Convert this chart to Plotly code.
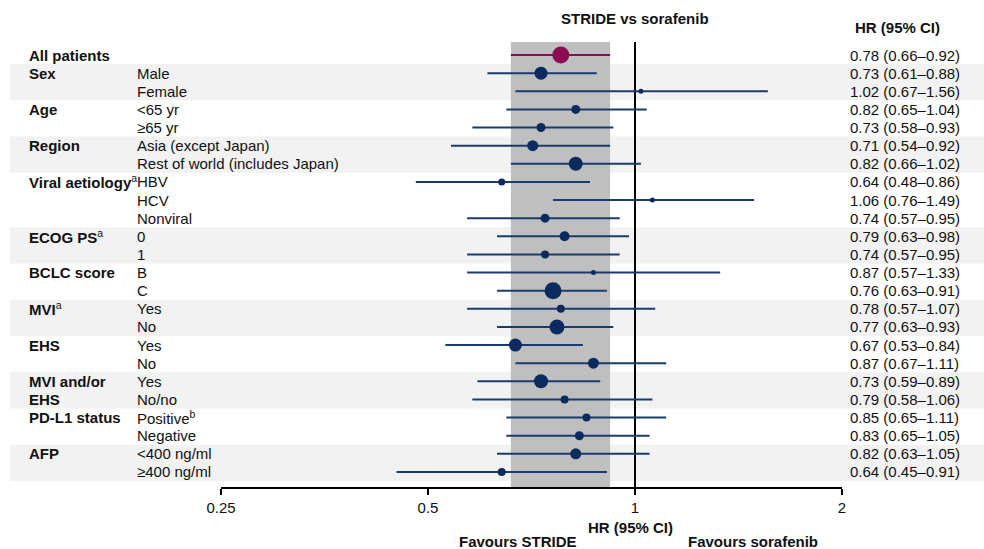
import plotly.graph_objects as go

# Subgroup forest plot: STRIDE vs sorafenib, hazard ratios with 95% CI
group_labels = ["<b>All patients</b>", "<b>Sex</b>", "", "<b>Age</b>", "",
                "<b>Region</b>", "", "<b>Viral aetiology</b><sup>a</sup>", "", "",
                "<b>ECOG PS</b><sup>a</sup>", "", "<b>BCLC score</b>", "",
                "<b>MVI</b><sup>a</sup>", "", "<b>EHS</b>", "",
                "<b>MVI and/or</b>", "<b>EHS</b>", "<b>PD-L1 status</b>", "",
                "<b>AFP</b>", ""]
subgroups = ["", "Male", "Female", "<65 yr", "≥65 yr",
             "Asia (except Japan)", "Rest of world (includes Japan)",
             "HBV", "HCV", "Nonviral", "0", "1", "B", "C", "Yes", "No",
             "Yes", "No", "Yes", "No/no", "Positive<sup>b</sup>", "Negative",
             "<400 ng/ml", "≥400 ng/ml"]
hr = [0.78, 0.73, 1.02, 0.82, 0.73, 0.71, 0.82, 0.64, 1.06, 0.74, 0.79, 0.74,
      0.87, 0.76, 0.78, 0.77, 0.67, 0.87, 0.73, 0.79, 0.85, 0.83, 0.82, 0.64]
ci_lo = [0.66, 0.61, 0.67, 0.65, 0.58, 0.54, 0.66, 0.48, 0.76, 0.57, 0.63, 0.57,
         0.57, 0.63, 0.57, 0.63, 0.53, 0.67, 0.59, 0.58, 0.65, 0.65, 0.63, 0.45]
ci_hi = [0.92, 0.88, 1.56, 1.04, 0.93, 0.92, 1.02, 0.86, 1.49, 0.95, 0.98, 0.95,
         1.33, 0.91, 1.07, 0.93, 0.84, 1.11, 0.89, 1.06, 1.11, 1.05, 1.05, 0.91]
# marker diameters scale with subgroup size
dot_size = [17, 13, 5, 9, 9, 11, 14, 7, 5, 9, 10, 8, 5, 17, 8, 15,
            13, 11, 14, 8, 8, 9, 11, 8]
shaded_groups = [(1, 2), (5, 6), (10, 11), (14, 15), (18, 19), (22, 23)]
x_ticks = [0.25, 0.5, 1, 2]

W, H = 984, 549
FONT = "Liberation Sans, Arial, sans-serif"
NAVY = "#0B2A5E"
MAGENTA = "#8C0B55"
TEXT = "#111111"
rows = list(range(len(hr)))

fig = go.Figure()

# overall estimate
fig.add_trace(go.Scatter(
    x=hr[:1], y=rows[:1], mode="markers",
    marker=dict(size=dot_size[:1], color=MAGENTA, opacity=1, line=dict(width=0)),
    error_x=dict(type="data", symmetric=False,
                 array=[ci_hi[0] - hr[0]], arrayminus=[hr[0] - ci_lo[0]],
                 color=MAGENTA, thickness=2, width=0),
    hoverinfo="skip", showlegend=False))

# subgroup estimates
fig.add_trace(go.Scatter(
    x=hr[1:], y=rows[1:], mode="markers",
    marker=dict(size=dot_size[1:], color=NAVY, opacity=1, line=dict(width=0)),
    error_x=dict(type="data", symmetric=False,
                 array=[h - m for h, m in zip(ci_hi[1:], hr[1:])],
                 arrayminus=[m - l for m, l in zip(hr[1:], ci_lo[1:])],
                 color="#1B3A6E", thickness=2, width=0),
    hoverinfo="skip", showlegend=False))

y_top, y_bot = -0.72, 23.83
shapes = []
for a, b in shaded_groups:
    shapes.append(dict(type="rect", xref="paper", yref="y", x0=10 / W, x1=1,
                       y0=a - 0.5, y1=b + 0.5, fillcolor="#F2F2F2",
                       line=dict(width=0), layer="below"))
# overall CI band
shapes.append(dict(type="rect", xref="x", yref="y", x0=ci_lo[0], x1=ci_hi[0],
                   y0=y_top, y1=y_bot, fillcolor="#BFBFBF",
                   line=dict(width=0), layer="below"))
# line of no effect
shapes.append(dict(type="line", xref="x", yref="y", x0=1, x1=1,
                   y0=y_top, y1=y_bot, line=dict(color="black", width=2),
                   layer="below"))

annotations = []
txt = dict(family=FONT, size=15, color=TEXT)
for i in rows:
    if group_labels[i]:
        annotations.append(dict(x=27 / W, y=i, xref="paper", yref="y",
                                text=group_labels[i], showarrow=False,
                                xanchor="left", yanchor="middle", font=txt))
    if subgroups[i]:
        annotations.append(dict(x=135 / W, y=i, xref="paper", yref="y",
                                text=subgroups[i], showarrow=False,
                                xanchor="left", yanchor="middle", font=txt))
    annotations.append(dict(x=848 / W, y=i, xref="paper", yref="y",
                            text=f"{hr[i]:.2f} ({ci_lo[i]:.2f}–{ci_hi[i]:.2f})",
                            showarrow=False, xanchor="left", yanchor="middle",
                            font=txt))

def paper_text(x, y, text):
    annotations.append(dict(x=x / W, y=1 - y / H, xref="paper", yref="paper",
                            text=f"<b>{text}</b>", showarrow=False,
                            xanchor="center", yanchor="middle", font=txt))

paper_text(635, 18, "STRIDE vs sorafenib")
paper_text(897, 27, "HR (95% CI)")
paper_text(630, 527, "HR (95% CI)")
paper_text(518, 541, "Favours STRIDE")
paper_text(753, 541, "Favours sorafenib")

fig.update_layout(
    width=W, height=H,
    margin=dict(l=0, r=0, t=0, b=0, pad=0, autoexpand=False),
    paper_bgcolor="white", plot_bgcolor="rgba(0,0,0,0)",
    shapes=shapes, annotations=annotations,
    xaxis=dict(type="log", domain=[221 / W, 842 / W],
               range=[-0.60206, 0.30103], tickvals=x_ticks,
               ticktext=[str(t) for t in x_ticks],
               showline=True, linecolor="black", linewidth=2,
               ticks="outside", ticklen=6, tickwidth=2, tickcolor="black",
               showgrid=False, zeroline=False, automargin=False,
               tickfont=dict(family=FONT, size=15, color=TEXT)),
    yaxis=dict(domain=[62 / H, 1], range=[y_bot, -3.034],
               visible=False, showgrid=False, zeroline=False),
)

fig.write_html("out.html")
